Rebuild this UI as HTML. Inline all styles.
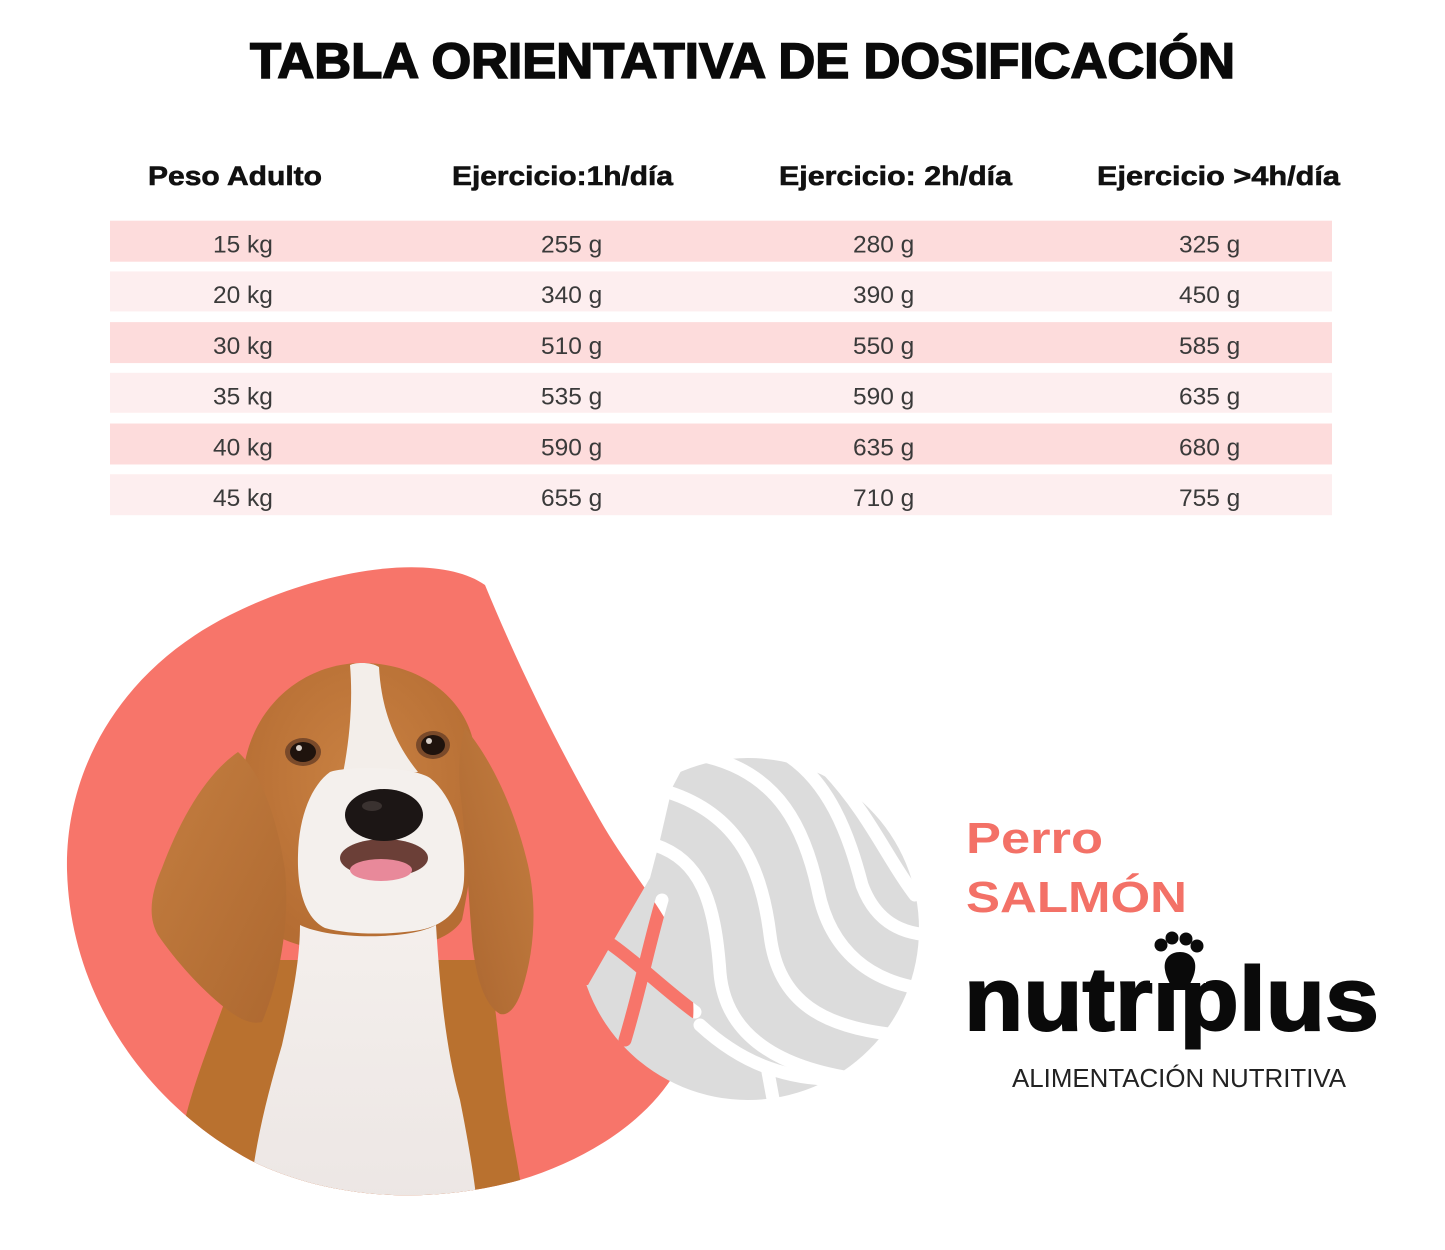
<!DOCTYPE html>
<html><head><meta charset="utf-8"><style>
html,body{margin:0;padding:0;background:#fff;}
svg{display:block;}
</style></head><body>
<svg width="1445" height="1250" viewBox="0 0 1445 1250" xmlns="http://www.w3.org/2000/svg">
<defs>
  <clipPath id="blobClip"><path d="M485,585 C440,553 330,565 230,615 C120,670 65,770 67,870 C70,990 140,1100 250,1160 C330,1200 430,1205 520,1180 C620,1150 700,1080 693,1000 C688,930 640,890 600,820 C560,750 520,670 485,585 Z"/></clipPath>
  <mask id="discMask" maskUnits="userSpaceOnUse" x="0" y="0" width="1445" height="1250">
    <rect x="0" y="0" width="1445" height="1250" fill="#000"/>
    <circle cx="748" cy="929" r="171" fill="#fff"/>
    <path d="M560,735 L700,735 L672,788 L660,840 L650,878 L615,938 L588,985 L560,985 Z" fill="#000"/>
    <g fill="none" stroke="#000" stroke-width="13" stroke-linecap="round">
      <path d="M655,845 C700,860 715,900 720,973 C725,1030 770,1065 850,1078"/>
      <path d="M668,792 C740,815 762,870 770,935 C778,1000 820,1030 910,1036"/>
      <path d="M708,757 C780,775 805,830 818,890 C830,950 870,985 935,990"/>
      <path d="M775,748 C830,775 850,840 862,885 C875,920 900,935 935,935"/>
      <path d="M828,770 C870,815 888,860 915,895"/>
      <path d="M612,945 C640,965 665,990 695,1012"/>
      <path d="M662,900 C650,940 640,990 625,1040"/>
      <path d="M700,1025 C740,1062 790,1085 860,1078"/>
      <path d="M768,1072 L776,1115"/>
    </g>
  </mask>
  <linearGradient id="earL" x1="0" y1="0" x2="1" y2="1">
    <stop offset="0" stop-color="#c47e40"/><stop offset="1" stop-color="#ad6830"/>
  </linearGradient>
  <linearGradient id="earR" x1="1" y1="0" x2="0" y2="1">
    <stop offset="0" stop-color="#c47e40"/><stop offset="1" stop-color="#ab6630"/>
  </linearGradient>
  <radialGradient id="headG" cx="0.5" cy="0.4" r="0.6">
    <stop offset="0" stop-color="#c98142"/><stop offset="1" stop-color="#b56d33"/>
  </radialGradient>
  <linearGradient id="chestG" x1="0" y1="0" x2="0" y2="1">
    <stop offset="0" stop-color="#f4efec"/><stop offset="1" stop-color="#ece6e4"/>
  </linearGradient>
</defs>

<!-- Title -->
<text x="250" y="78" font-family="Liberation Sans, sans-serif" font-weight="bold" font-size="50" fill="#0a0a0a" stroke="#0a0a0a" stroke-width="1.6" textLength="985" lengthAdjust="spacingAndGlyphs">TABLA ORIENTATIVA DE DOSIFICACIÓN</text>

<!-- Header -->
<g font-family="Liberation Sans, sans-serif" font-weight="bold" font-size="27" fill="#111" stroke="#111" stroke-width="0.6">
  <text x="148" y="185" textLength="174" lengthAdjust="spacingAndGlyphs">Peso Adulto</text>
  <text x="452" y="185" textLength="221" lengthAdjust="spacingAndGlyphs">Ejercicio:1h/día</text>
  <text x="779" y="185" textLength="233" lengthAdjust="spacingAndGlyphs">Ejercicio: 2h/día</text>
  <text x="1097" y="185" textLength="243" lengthAdjust="spacingAndGlyphs">Ejercicio &gt;4h/día</text>
</g>

<!-- Rows -->
<rect x="110" y="220.7" width="1222" height="41" fill="#fddcdc"/>
<rect x="110" y="271.4" width="1222" height="40" fill="#fdeeef"/>
<rect x="110" y="322.1" width="1222" height="41" fill="#fddcdc"/>
<rect x="110" y="372.8" width="1222" height="40" fill="#fdeeef"/>
<rect x="110" y="423.5" width="1222" height="41" fill="#fddcdc"/>
<rect x="110" y="474.2" width="1222" height="41" fill="#fdeeef"/>

<g font-family="Liberation Sans, sans-serif" font-size="24.5" fill="#3a3a3a">
  <text x="213" y="252.5">15 kg</text><text x="541" y="252.5">255 g</text><text x="853" y="252.5">280 g</text><text x="1179" y="252.5">325 g</text>
  <text x="213" y="303.2">20 kg</text><text x="541" y="303.2">340 g</text><text x="853" y="303.2">390 g</text><text x="1179" y="303.2">450 g</text>
  <text x="213" y="353.9">30 kg</text><text x="541" y="353.9">510 g</text><text x="853" y="353.9">550 g</text><text x="1179" y="353.9">585 g</text>
  <text x="213" y="404.6">35 kg</text><text x="541" y="404.6">535 g</text><text x="853" y="404.6">590 g</text><text x="1179" y="404.6">635 g</text>
  <text x="213" y="455.3">40 kg</text><text x="541" y="455.3">590 g</text><text x="853" y="455.3">635 g</text><text x="1179" y="455.3">680 g</text>
  <text x="213" y="506">45 kg</text><text x="541" y="506">655 g</text><text x="853" y="506">710 g</text><text x="1179" y="506">755 g</text>
</g>

<!-- Blob -->
<path d="M485,585 C440,553 330,565 230,615 C120,670 65,770 67,870 C70,990 140,1100 250,1160 C330,1200 430,1205 520,1180 C620,1150 700,1080 693,1000 C688,930 640,890 600,820 C560,750 520,670 485,585 Z" fill="#f7756a"/>

<!-- Grey disc with gaps -->
<rect x="0" y="0" width="1445" height="1250" fill="#dcdcdc" mask="url(#discMask)"/>

<!-- Dog -->
<g clip-path="url(#blobClip)">
  <path d="M240,960 C215,1030 190,1090 183,1130 C180,1160 185,1190 190,1215 L525,1215 C520,1170 510,1130 505,1090 C500,1050 495,1010 490,960 Z" fill="#b9712f"/>
  <path d="M243,775 C250,705 305,663 362,663 C422,663 466,700 474,745 C482,800 472,870 462,920 C440,960 300,965 262,925 C248,880 240,820 243,775 Z" fill="url(#headG)"/>
  <path d="M238,752 C258,770 276,810 285,870 C290,920 280,980 262,1022 C250,1025 238,1018 225,1008 C200,988 175,960 158,935 C148,918 150,895 162,868 C180,820 205,775 238,752 Z" fill="url(#earL)"/>
  <path d="M465,728 C492,760 515,810 528,865 C537,905 535,950 522,990 C516,1008 508,1016 500,1014 C485,1005 476,980 472,940 C468,890 466,840 460,790 C458,765 460,745 465,728 Z" fill="url(#earR)"/>
  <path d="M350,665 C356,662 372,662 379,667 C381,705 392,740 418,772 L342,778 C350,740 353,700 350,665 Z" fill="#f3eeea"/>
  <path d="M330,772 C348,766 412,766 430,778 C455,798 466,840 464,880 C462,910 445,925 420,930 C390,935 350,935 325,928 C305,918 297,890 298,855 C299,815 312,785 330,772 Z" fill="#f4f0ed"/>
  <path d="M300,925 C330,940 410,940 436,925 C440,990 446,1050 460,1100 C470,1150 476,1190 478,1215 L248,1215 C253,1150 266,1100 282,1045 C292,1000 300,960 300,925 Z" fill="url(#chestG)"/>
  <ellipse cx="384" cy="858" rx="44" ry="19" fill="#6b3f37"/>
  <ellipse cx="381" cy="870" rx="31" ry="11" fill="#e8899a"/>
  <ellipse cx="384" cy="815" rx="39" ry="26" fill="#1c1615"/>
  <ellipse cx="372" cy="806" rx="10" ry="5" fill="#3a3230"/>
  <ellipse cx="303" cy="752" rx="18" ry="14" fill="#7a4a2a"/>
  <ellipse cx="303" cy="752" rx="13" ry="10" fill="#1f130d"/>
  <circle cx="299" cy="748" r="3" fill="#d8cfc8"/>
  <ellipse cx="433" cy="745" rx="17" ry="14" fill="#7a4a2a"/>
  <ellipse cx="433" cy="745" rx="12" ry="10" fill="#1f130d"/>
  <circle cx="429" cy="741" r="3" fill="#d8cfc8"/>
</g>

<!-- Right text -->
<g font-family="Liberation Sans, sans-serif" font-weight="bold" fill="#f37167">
  <text x="966" y="853" font-size="44" textLength="137" lengthAdjust="spacingAndGlyphs">Perro</text>
  <text x="966" y="912" font-size="44" textLength="221" lengthAdjust="spacingAndGlyphs">SALMÓN</text>
</g>
<text x="964" y="1030" font-family="Liberation Sans, sans-serif" font-weight="bold" font-size="90" fill="#0a0a0a" stroke="#0a0a0a" stroke-width="2" textLength="415" lengthAdjust="spacingAndGlyphs">nutriplus</text>
<rect x="1150" y="938" width="56" height="45" fill="#fff"/>
<g fill="#0a0a0a">
  <circle cx="1161" cy="945" r="6.5"/>
  <circle cx="1172" cy="938" r="6.5"/>
  <circle cx="1186" cy="939" r="6.5"/>
  <circle cx="1197" cy="946" r="6.5"/>
  <path d="M1165,970 C1163,958 1171,952 1180,952 C1189,952 1197,958 1195,970 C1194,978 1189,984 1188,990 L1172,990 C1171,984 1166,978 1165,970 Z"/>
</g>
<text x="1012" y="1087" font-family="Liberation Sans, sans-serif" font-size="26" fill="#222" textLength="334" lengthAdjust="spacingAndGlyphs">ALIMENTACIÓN NUTRITIVA</text>
</svg>
</body></html>
